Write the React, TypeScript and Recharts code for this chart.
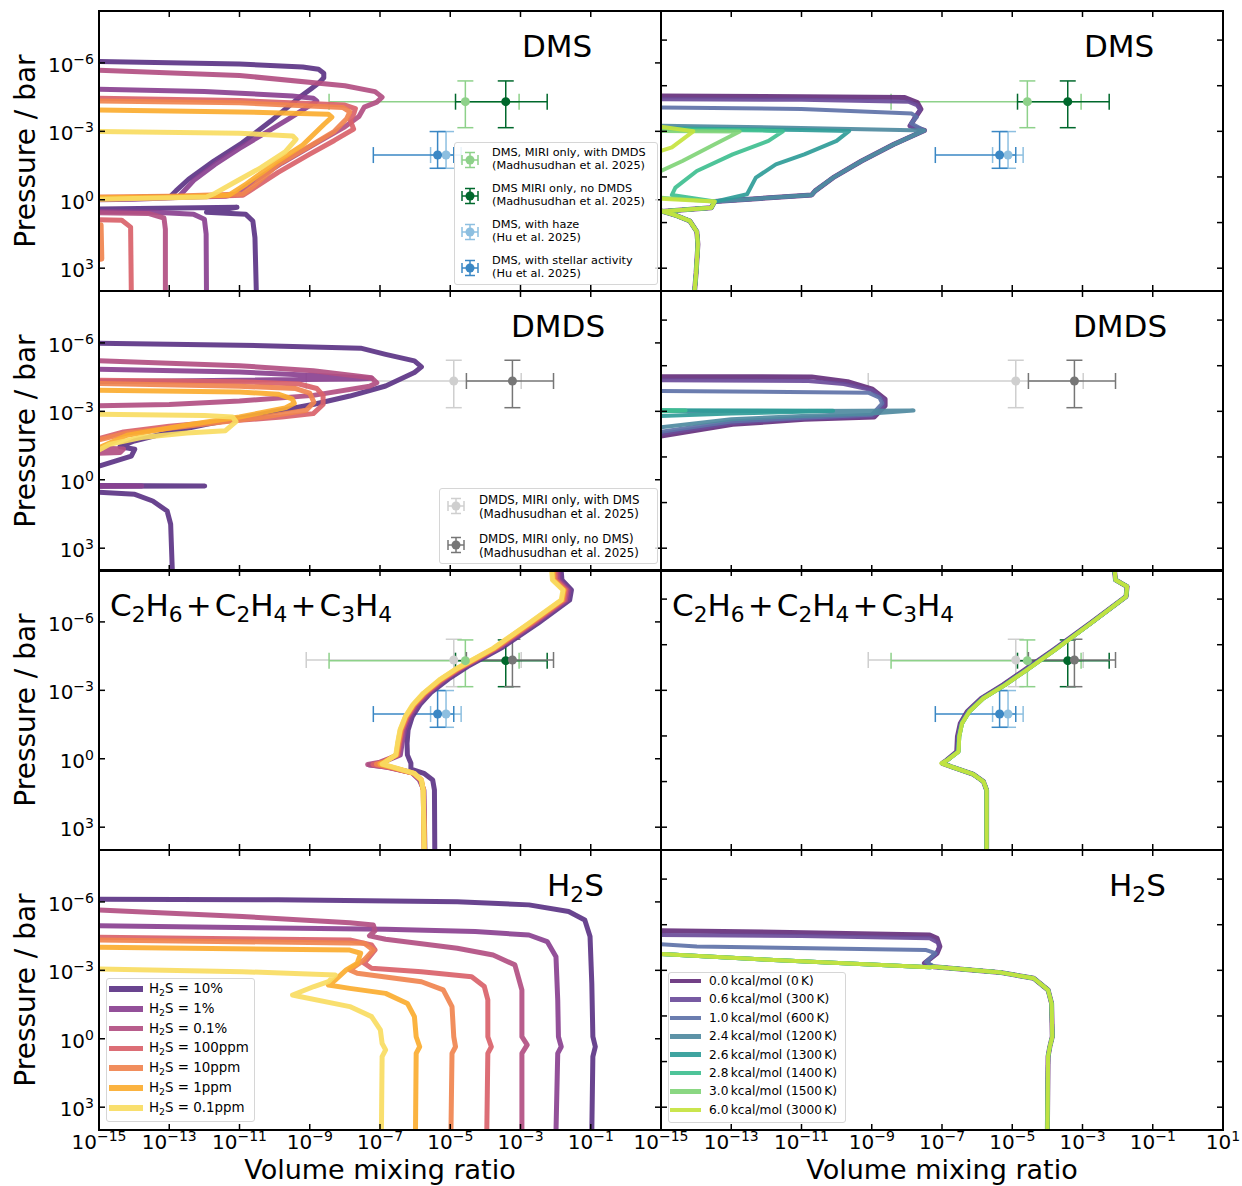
import React from 'react';
import { ScatterChart, Scatter, XAxis, YAxis, ErrorBar } from 'recharts';

type P = [number, number]; // [log10 volume mixing ratio, log10 pressure / bar]

const FONT = "'DejaVu Sans', sans-serif";

// ---------- axes ----------
const xTickValues = [1e-15, 1e-13, 1e-11, 1e-9, 1e-7, 1e-5, 1e-3, 1e-1, 1e1];
const yTicksLeft = [1e-6, 1e-3, 1, 1e3];
const yTicksRight = [1e-7, 1e-5, 1e-3, 1e-1, 1e1, 1e3];
const X_DOMAIN: [number, number] = [1e-15, 1e1];
const P_DOMAIN: [number, number] = [5.3e-9, 1e4];

// ---------- series labels / colours ----------
const h2sLabels = ['10%', '1%', '0.1%', '100ppm', '10ppm', '1ppm', '0.1ppm'];
const h2sColors = ['#5c3486', '#8a4190', '#b24f82', '#d9626a', '#f0844f', '#fbac30', '#f8dc62'];
const kcalLabels = [
  '0.0\u2009kcal/mol (0\u2009K)', '0.6\u2009kcal/mol (300\u2009K)', '1.0\u2009kcal/mol (600\u2009K)',
  '2.4\u2009kcal/mol (1200\u2009K)', '2.6\u2009kcal/mol (1300\u2009K)', '2.8\u2009kcal/mol (1400\u2009K)',
  '3.0\u2009kcal/mol (1500\u2009K)', '6.0\u2009kcal/mol (3000\u2009K)',
];
const kcalColors = ['#66307c', '#6b4c9a', '#5e72a8', '#4f8aa0', '#2f9c98', '#3fbf90', '#80d477', '#c5e33e'];

// ---------- DMS, H2S variation ----------
const dmsL_10: P[] = [[-16,-6.09],[-15,-6.06],[-11,-5.95],[-9.2,-5.82],[-8.75,-5.72],[-8.6,-5.55],[-8.6,-5.35],[-8.72,-5.15],[-8.95,-4.88],[-9.3,-4.48],[-10.1,-3.46],[-10.92,-2.5],[-11.73,-1.7],[-12.45,-0.9],[-12.81,-0.39],[-12.96,-0.15],[-14,-0.1],[-16,-0.05],[-16,0.42],[-11.07,0.33],[-11.94,0.55],[-10.82,0.64],[-10.62,0.93],[-10.56,1.66],[-10.52,4.1]];
const dmsL_1: P[] = [[-16,-4.87],[-15,-4.84],[-12,-4.75],[-9.5,-4.55],[-8.9,-4.45],[-8.8,-4.33],[-8.95,-4.18],[-9.6,-3.55],[-10.3,-2.9],[-11.0,-2.25],[-11.7,-1.55],[-12.3,-0.85],[-12.6,-0.35],[-12.75,-0.1],[-14,-0.02],[-16,0.02],[-16,0.5],[-13.4,0.55],[-12.3,0.64],[-12.0,0.85],[-11.95,1.5],[-11.94,4.1]];
const dmsL_01: P[] = [[-16,-5.71],[-15,-5.68],[-11,-5.45],[-8,-5.0],[-7.14,-4.74],[-6.94,-4.5],[-7.09,-4.28],[-7.45,-4.06],[-7.6,-3.65],[-8.0,-3.2],[-8.8,-2.5],[-9.8,-1.6],[-10.7,-0.7],[-11.1,-0.25],[-11.4,-0.15],[-14,-0.05],[-16,0.0],[-16,0.55],[-13.6,0.6],[-13.15,0.8],[-13.11,1.3],[-13.11,4.1]];
const dmsL_100ppm: P[] = [[-16,-4.48],[-15,-4.45],[-11,-4.35],[-8.0,-4.15],[-7.7,-4.0],[-7.75,-3.75],[-7.85,-3.5],[-7.75,-3.1],[-8.3,-2.6],[-9.0,-2.0],[-9.9,-1.2],[-10.7,-0.4],[-10.9,-0.2],[-13,-0.1],[-16,-0.05],[-16,0.85],[-14.35,0.9],[-14.1,1.2],[-14.08,4.1]];
const dmsL_10ppm: P[] = [[-16,-4.36],[-15,-4.33],[-11,-4.25],[-8.06,-4.05],[-7.86,-3.85],[-7.95,-3.55],[-8.3,-3.0],[-9.0,-2.35],[-9.9,-1.55],[-10.6,-0.6],[-10.9,-0.25],[-13,-0.15],[-16,-0.1],[-16,1.0],[-14.94,1.1],[-14.92,2.6],[-16,2.8]];
const dmsL_1ppm: P[] = [[-16,-3.97],[-15,-3.94],[-11,-3.85],[-8.47,-3.75],[-8.37,-3.62],[-8.6,-3.3],[-9.2,-2.4],[-10.0,-1.6],[-10.8,-0.7],[-11.3,-0.2],[-13,-0.12],[-16,-0.08]];
const dmsL_01ppm: P[] = [[-16,-3.02],[-15,-2.99],[-11,-2.92],[-9.49,-2.8],[-9.39,-2.65],[-9.7,-2.1],[-10.4,-1.4],[-11.1,-0.8],[-11.74,-0.25],[-11.94,-0.12],[-14,-0.05],[-16,0.0]];

// ---------- DMS, deposition-energy variation ----------
const dmsR_diag: P[] = [[-7.5,-3.04],[-8.37,-2.43],[-9.29,-1.7],[-10.1,-0.97],[-10.61,-0.39],[-10.71,-0.21]];
const dmsR_tail: P[] = [[-13.47,0.08],[-13.57,0.35],[-15,0.52],[-16,0.55],[-16,0.5],[-15,0.49],[-14.6,0.67],[-14.18,0.93],[-13.98,1.4],[-13.95,1.95],[-14.0,3.2],[-14.05,4.1]];
const dmsR_00: P[] = [[-16,-4.58],[-15,-4.55],[-11,-4.52],[-8.06,-4.48],[-7.7,-4.26],[-7.6,-3.97],[-7.76,-3.6],[-7.91,-3.24], ...dmsR_diag, ...dmsR_tail];
const dmsR_06: P[] = [[-16,-4.43],[-15,-4.41],[-11,-4.38],[-7.96,-4.3],[-7.72,-4.15],[-7.62,-3.95],[-7.78,-3.6],[-7.91,-3.24], ...dmsR_diag, ...dmsR_tail];
const dmsR_10: P[] = [[-16,-4.06],[-15,-4.04],[-11,-3.98],[-7.86,-3.78],[-7.72,-3.62],[-7.88,-3.35], ...dmsR_diag, ...dmsR_tail];
const dmsR_24: P[] = [[-16,-3.26],[-15,-3.24],[-11,-3.15], ...dmsR_diag, ...dmsR_tail];
const dmsR_26: P[] = [[-16,-3.15],[-15,-3.13],[-11,-3.06],[-9.64,-3.02],[-10.0,-2.58],[-10.92,-1.99],[-11.73,-1.55],[-12.3,-0.97],[-12.55,-0.24], ...dmsR_tail];
const dmsR_28: P[] = [[-16,-3.11],[-15,-3.09],[-12,-3.03],[-11.53,-3.0],[-11.94,-2.58],[-12.96,-1.99],[-13.98,-1.26],[-14.59,-0.53],[-14.69,-0.21], ...dmsR_tail];
const dmsR_30: P[] = [[-16,-3.04],[-15,-3.02],[-12.76,-2.99],[-13.47,-2.43],[-14.39,-1.7],[-15,-1.26],[-16,-1.2],[-16,-0.05],[-15,-0.09], ...dmsR_tail];
const dmsR_60: P[] = [[-16,-3.28],[-15,-3.2],[-14.08,-3.0],[-14.69,-2.3],[-15,-2.15],[-16,-2.1],[-16,-0.05],[-15,-0.05], ...dmsR_tail];

// ---------- DMDS, H2S variation ----------
const dmdsL_10: P[] = [[-16,-6.0],[-15,-5.98],[-11,-5.9],[-7.55,-5.77],[-6.84,-5.5],[-6.02,-5.21],[-5.82,-4.95],[-6.02,-4.7],[-6.84,-4.11],[-7.86,-3.67],[-8.88,-3.31],[-9.9,-3.02],[-10.92,-2.72],[-11.94,-2.43],[-12.96,-2.1],[-14.0,-1.7],[-14.4,-1.45],[-13.98,-1.34],[-14.08,-1.04],[-15,-0.6],[-16,-0.5],[-16,0.25],[-11.99,0.27],[-16,0.29],[-16,0.45],[-13.98,0.64],[-13.47,0.93],[-13.06,1.37],[-12.96,1.95],[-12.91,4.1]];
const dmdsL_1: P[] = [[-16,-4.87],[-15,-4.84],[-11,-4.72],[-8.5,-4.55],[-7.24,-4.45],[-7.6,-4.42],[-10,-4.38],[-13,-4.33],[-16,-4.3],[-16,0.25],[-13.78,0.27],[-16,0.29]];
const dmdsL_01: P[] = [[-16,-5.26],[-15,-5.22],[-11,-5.0],[-8.9,-4.78],[-7.24,-4.47],[-7.09,-4.25],[-7.3,-4.1],[-8.9,-3.7],[-11,-3.45],[-13,-3.3],[-15,-3.25],[-16,-3.24],[-16,-1.45],[-14.3,-1.35],[-14.4,-1.2],[-16,-1.1]];
const dmdsL_100ppm: P[] = [[-16,-4.38],[-15,-4.36],[-11,-4.3],[-9.3,-4.2],[-8.8,-4.0],[-8.62,-3.7],[-8.62,-3.3],[-8.9,-2.9],[-9.8,-2.75],[-11.5,-2.55],[-13,-2.35],[-14.3,-2.1],[-15,-1.8],[-16,-1.6]];
const dmdsL_10ppm: P[] = [[-16,-4.26],[-15,-4.22],[-11,-4.1],[-9.4,-4.0],[-9.0,-3.8],[-8.88,-3.4],[-9.1,-3.05],[-10.3,-2.75],[-12.5,-2.35],[-14.2,-2.05],[-15,-1.75],[-16,-1.7]];
const dmdsL_1ppm: P[] = [[-16,-3.95],[-15,-3.92],[-11,-3.85],[-9.9,-3.75],[-9.5,-3.55],[-9.44,-3.35],[-9.7,-3.15],[-11,-2.75],[-12.5,-2.4],[-14.2,-1.95],[-15,-1.4],[-16,-1.3]];
const dmdsL_01ppm: P[] = [[-16,-2.9],[-15,-2.87],[-12,-2.82],[-11.2,-2.75],[-11.1,-2.55],[-11.4,-2.15],[-12.5,-2.05],[-13.8,-1.85],[-14.7,-1.55],[-15,-1.3],[-16,-1.2]];

// ---------- DMDS, deposition-energy variation ----------
const dmdsR_00: P[] = [[-16,-4.55],[-15,-4.52],[-10.71,-4.51],[-9.69,-4.3],[-8.98,-3.97],[-8.62,-3.53],[-8.62,-3.24],[-8.93,-2.75],[-10.92,-2.65],[-12.96,-2.43],[-15,-1.92],[-16,-1.8]];
const dmdsR_06: P[] = [[-16,-4.37],[-15,-4.36],[-10.8,-4.33],[-9.8,-4.2],[-9.0,-3.93],[-8.66,-3.53],[-8.66,-3.26],[-8.95,-2.8],[-11,-2.68],[-13,-2.48],[-15,-2.0],[-16,-1.85]];
const dmdsR_10: P[] = [[-16,-3.9],[-15,-3.89],[-9.1,-3.82],[-8.78,-3.6],[-8.7,-3.35],[-9.0,-2.85],[-11,-2.72],[-13,-2.55],[-15,-2.1],[-16,-1.95]];
const dmdsR_24: P[] = [[-16,-3.03],[-15,-3.02],[-11,-3.02],[-7.81,-3.04],[-9.0,-2.9],[-11,-2.8],[-13,-2.65],[-15,-2.3],[-16,-2.2]];
const dmdsR_26: P[] = [[-16,-3.06],[-15,-3.05],[-10.1,-3.03],[-11,-2.98],[-13,-2.9],[-15,-2.8],[-16,-2.78]];
const dmdsR_28: P[] = [[-16,-3.06],[-15,-3.05],[-14.3,-3.04],[-15,-3.0],[-16,-2.98]];

// ---------- C2H6+C2H4+C3H4, H2S variation ----------
const c2L_10: P[] = [[-1.85,-8.4],[-1.82,-7.84],[-1.55,-7.4],[-1.6,-6.96],[-2.5,-5.94],[-3.5,-4.9],[-4.5,-4.05],[-5.05,-3.5],[-5.55,-2.9],[-5.85,-2.4],[-6.08,-1.85],[-6.2,-1.26],[-6.23,-0.68],[-6.22,-0.17],[-6.12,0.2],[-6.12,0.45],[-5.75,0.64],[-5.5,0.93],[-5.45,1.37],[-5.44,4.1]];
const c2L_1: P[] = [[-1.92,-8.4],[-1.9,-7.84],[-1.62,-7.4],[-1.67,-6.96],[-2.58,-5.94],[-3.6,-4.88],[-4.62,-4.02],[-5.15,-3.48],[-5.62,-2.88],[-5.93,-2.38],[-6.15,-1.85],[-6.3,-1.26],[-6.37,-0.68],[-6.42,-0.17],[-6.95,0.17],[-7.3,0.27],[-6.75,0.37],[-6.1,0.6],[-5.88,0.93],[-5.75,1.37],[-5.72,4.1]];
const c2L_01: P[] = [[-1.97,-8.4],[-1.95,-7.84],[-1.67,-7.4],[-1.72,-6.96],[-2.63,-5.94],[-3.65,-4.86],[-4.67,-4.0],[-5.2,-3.47],[-5.67,-2.88],[-5.98,-2.37],[-6.2,-1.85],[-6.35,-1.26],[-6.42,-0.68],[-6.47,-0.17],[-7.0,0.15],[-7.35,0.25],[-6.8,0.37],[-6.08,0.62],[-5.85,0.93],[-5.76,1.37],[-5.73,4.1]];
const c2L_100ppm: P[] = [[-2.02,-8.4],[-2.0,-7.84],[-1.71,-7.4],[-1.76,-6.96],[-2.67,-5.94],[-3.7,-4.85],[-4.72,-3.98],[-5.24,-3.46],[-5.71,-2.88],[-6.02,-2.37],[-6.23,-1.85],[-6.38,-1.26],[-6.45,-0.68],[-6.5,-0.17],[-6.95,0.16],[-7.2,0.25],[-6.75,0.37],[-6.06,0.63],[-5.84,0.93],[-5.76,1.37],[-5.74,4.1]];
const c2L_10ppm: P[] = [[-2.06,-8.4],[-2.04,-7.84],[-1.75,-7.4],[-1.8,-6.96],[-2.71,-5.94],[-3.74,-4.84],[-4.76,-3.97],[-5.27,-3.46],[-5.74,-2.87],[-6.04,-2.36],[-6.25,-1.85],[-6.4,-1.26],[-6.47,-0.68],[-6.52,-0.17],[-6.9,0.15],[-7.1,0.24],[-6.7,0.37],[-6.04,0.64],[-5.83,0.93],[-5.77,1.37],[-5.74,4.1]];
const c2L_1ppm: P[] = [[-2.09,-8.4],[-2.07,-7.84],[-1.77,-7.4],[-1.82,-6.96],[-2.74,-5.94],[-3.76,-4.84],[-4.78,-3.97],[-5.29,-3.46],[-5.75,-2.87],[-6.05,-2.36],[-6.27,-1.85],[-6.42,-1.26],[-6.49,-0.68],[-6.54,-0.17],[-6.86,0.14],[-7.0,0.23],[-6.66,0.37],[-6.03,0.64],[-5.82,0.93],[-5.77,1.37],[-5.74,4.1]];
const c2L_01ppm: P[] = [[-2.12,-8.4],[-2.09,-7.84],[-1.79,-7.4],[-1.84,-6.96],[-2.76,-5.94],[-3.78,-4.84],[-4.8,-3.97],[-5.31,-3.46],[-5.77,-2.87],[-6.07,-2.36],[-6.28,-1.85],[-6.43,-1.26],[-6.5,-0.68],[-6.55,-0.17],[-6.84,0.13],[-6.94,0.23],[-6.63,0.37],[-6.02,0.64],[-5.82,0.93],[-5.77,1.37],[-5.74,4.1]];

// ---------- C2H6+C2H4+C3H4, deposition-energy variation ----------
const c2R_00: P[] = [[-2.1,-8.4],[-2.06,-7.84],[-1.73,-7.55],[-1.76,-7.11],[-2.78,-5.94],[-3.83,-4.77],[-4.65,-3.89],[-5.26,-3.24],[-5.88,-2.65],[-6.28,-2.07],[-6.48,-1.55],[-6.56,-0.97],[-6.58,-0.31],[-6.86,0.05],[-6.99,0.2],[-6.73,0.35],[-6.12,0.67],[-5.82,1.0],[-5.73,1.37],[-5.73,4.1]];
const c2R_06: P[] = [[-2.1,-8.4],[-2.06,-7.84],[-1.73,-7.55],[-1.76,-7.11],[-2.78,-5.94],[-3.82,-4.77],[-4.64,-3.89],[-5.25,-3.24],[-5.87,-2.65],[-6.27,-2.07],[-6.47,-1.55],[-6.55,-0.97],[-6.57,-0.31],[-6.85,0.05],[-6.99,0.2],[-6.73,0.35],[-6.12,0.67],[-5.82,1.0],[-5.73,1.37],[-5.73,4.1]];
const c2R_10: P[] = [[-2.1,-8.4],[-2.06,-7.84],[-1.73,-7.55],[-1.76,-7.11],[-2.77,-5.94],[-3.81,-4.77],[-4.62,-3.89],[-5.23,-3.24],[-5.85,-2.65],[-6.25,-2.07],[-6.45,-1.55],[-6.53,-0.97],[-6.55,-0.31],[-6.85,0.05],[-6.99,0.2],[-6.73,0.35],[-6.12,0.67],[-5.82,1.0],[-5.73,1.37],[-5.73,4.1]];
const c2R_24: P[] = [[-2.1,-8.4],[-2.06,-7.84],[-1.73,-7.55],[-1.76,-7.11],[-2.76,-5.94],[-3.79,-4.77],[-4.6,-3.89],[-5.21,-3.24],[-5.83,-2.65],[-6.23,-2.07],[-6.44,-1.55],[-6.52,-0.97],[-6.54,-0.31],[-6.84,0.05],[-6.99,0.2],[-6.73,0.35],[-6.12,0.67],[-5.82,1.0],[-5.73,1.37],[-5.73,4.1]];
const c2R_26: P[] = [[-2.1,-8.4],[-2.06,-7.84],[-1.73,-7.55],[-1.76,-7.11],[-2.76,-5.94],[-3.78,-4.77],[-4.59,-3.89],[-5.2,-3.24],[-5.82,-2.65],[-6.22,-2.07],[-6.43,-1.55],[-6.51,-0.97],[-6.53,-0.31],[-6.84,0.05],[-6.99,0.2],[-6.73,0.35],[-6.12,0.67],[-5.82,1.0],[-5.73,1.37],[-5.73,4.1]];
const c2R_28: P[] = [[-2.1,-8.4],[-2.06,-7.84],[-1.73,-7.55],[-1.76,-7.11],[-2.76,-5.94],[-3.78,-4.77],[-4.59,-3.89],[-5.2,-3.24],[-5.82,-2.65],[-6.22,-2.07],[-6.43,-1.55],[-6.51,-0.97],[-6.53,-0.31],[-6.84,0.05],[-6.99,0.2],[-6.73,0.35],[-6.12,0.67],[-5.82,1.0],[-5.73,1.37],[-5.73,4.1]];
const c2R_30: P[] = [[-2.1,-8.4],[-2.06,-7.84],[-1.73,-7.55],[-1.76,-7.11],[-2.76,-5.94],[-3.78,-4.77],[-4.59,-3.89],[-5.2,-3.24],[-5.82,-2.65],[-6.22,-2.07],[-6.43,-1.55],[-6.51,-0.97],[-6.53,-0.31],[-6.84,0.05],[-6.99,0.2],[-6.73,0.35],[-6.12,0.67],[-5.82,1.0],[-5.73,1.37],[-5.73,4.1]];
const c2R_60: P[] = [[-2.09,-8.4],[-2.06,-7.84],[-1.73,-7.55],[-1.76,-7.11],[-2.76,-5.94],[-3.78,-4.77],[-4.59,-3.89],[-5.2,-3.24],[-5.82,-2.65],[-6.22,-2.07],[-6.43,-1.55],[-6.51,-0.97],[-6.53,-0.31],[-6.84,0.05],[-7.02,0.2],[-6.73,0.35],[-6.12,0.67],[-5.82,1.0],[-5.73,1.37],[-5.73,4.1]];

// ---------- H2S, H2S variation ----------
const h2sL_10: P[] = [[-16,-6.14],[-15,-6.12],[-9.9,-6.09],[-4.8,-6.01],[-2.76,-5.87],[-1.63,-5.58],[-1.17,-5.21],[-1.02,-4.48],[-0.97,-2.43],[-0.94,-0.09],[-0.87,0.35],[-0.94,0.78],[-0.97,4.1]];
const h2sL_1: P[] = [[-16,-4.97],[-15,-4.95],[-6.84,-4.8],[-4.29,-4.7],[-2.76,-4.55],[-2.24,-4.26],[-1.99,-3.6],[-1.94,-1.7],[-1.92,-0.09],[-1.84,0.35],[-1.94,0.64],[-1.99,4.1]];
const h2sL_01: P[] = [[-16,-5.67],[-15,-5.65],[-10.92,-5.36],[-7.86,-5.09],[-7.19,-4.99],[-7.14,-4.74],[-7.3,-4.51],[-6.84,-4.36],[-4.8,-3.97],[-3.78,-3.67],[-3.16,-3.24],[-2.96,-2.14],[-2.96,-0.09],[-2.81,0.27],[-2.96,0.64],[-2.96,4.1]];
const h2sL_100ppm: P[] = [[-16,-4.47],[-15,-4.45],[-7.86,-4.33],[-7.24,-4.11],[-7.14,-3.89],[-7.45,-3.31],[-7.24,-3.09],[-5.82,-2.94],[-4.39,-2.72],[-4.03,-2.29],[-3.93,-1.7],[-3.93,-0.09],[-3.83,0.35],[-3.93,0.64],[-3.96,4.1]];
const h2sL_10ppm: P[] = [[-16,-4.35],[-15,-4.33],[-7.45,-4.19],[-7.19,-3.89],[-7.45,-3.46],[-7.86,-3.02],[-7.65,-2.87],[-5.82,-2.5],[-5.2,-2.14],[-4.95,-1.41],[-4.9,-0.09],[-4.85,0.35],[-4.95,0.64],[-4.98,4.1]];
const h2sL_1ppm: P[] = [[-16,-4.03],[-15,-4.01],[-7.86,-3.89],[-7.55,-3.75],[-7.65,-3.31],[-7.96,-3.02],[-8.27,-2.58],[-8.47,-2.36],[-7.86,-2.21],[-6.84,-1.99],[-6.22,-1.55],[-6.02,-0.97],[-5.97,-0.09],[-5.87,0.35],[-5.97,0.64],[-5.99,4.1]];
const h2sL_01ppm: P[] = [[-16,-3.08],[-15,-3.06],[-10.92,-2.94],[-8.27,-2.8],[-8.47,-2.5],[-8.88,-2.29],[-9.49,-1.92],[-9.29,-1.85],[-7.86,-1.41],[-7.24,-0.97],[-6.99,-0.39],[-6.94,0.2],[-6.84,0.49],[-6.94,0.78],[-6.96,4.1]];

// ---------- H2S, deposition-energy variation ----------
const h2sR_tail: P[] = [[-7.24,-3.16],[-5.31,-2.9],[-4.39,-2.65],[-3.98,-2.14],[-3.88,-1.55],[-3.86,-0.09],[-3.93,0.35],[-3.98,0.78],[-4.0,4.1]];
const h2sR_00: P[] = [[-16,-4.76],[-15,-4.74],[-10.92,-4.65],[-7.35,-4.55],[-7.14,-4.41],[-7.06,-4.04],[-7.14,-3.75],[-7.5,-3.31], ...h2sR_tail];
const h2sR_06: P[] = [[-16,-4.57],[-15,-4.55],[-11,-4.5],[-7.35,-4.41],[-7.1,-4.2],[-7.09,-4.0],[-7.16,-3.73],[-7.48,-3.3], ...h2sR_tail];
const h2sR_10: P[] = [[-16,-4.16],[-15,-4.14],[-13.98,-4.04],[-7.45,-3.89],[-7.19,-3.75],[-7.45,-3.38], ...h2sR_tail];
const h2sR_24: P[] = [[-16,-3.74],[-15,-3.72],[-11.94,-3.46],[-7.35,-3.13], ...h2sR_tail];
const h2sR_26: P[] = [[-16,-3.74],[-15,-3.72],[-11.94,-3.46],[-7.35,-3.13], ...h2sR_tail];
const h2sR_28: P[] = [[-16,-3.74],[-15,-3.72],[-11.94,-3.46],[-7.35,-3.13], ...h2sR_tail];
const h2sR_30: P[] = [[-16,-3.74],[-15,-3.72],[-11.94,-3.46],[-7.35,-3.13], ...h2sR_tail];
const h2sR_60: P[] = [[-16,-3.74],[-15,-3.72],[-11.94,-3.46],[-7.35,-3.13], ...h2sR_tail];

// ---------- retrieved abundances: [log x, log x low, log x high, log p, log p low, log p high] ----------
const obsDmsWithDmds = [-4.57, -8.45, -3.04, -4.3, -5.21, -3.16];
const obsDmsNoDmds = [-3.42, -4.85, -2.24, -4.3, -5.21, -3.16];
const obsDmsHaze = [-5.12, -5.56, -4.69, -1.96, -2.99, -1.38];
const obsDmsStellar = [-5.36, -7.19, -4.9, -1.96, -2.99, -1.38];
const obsDmdsWithDms = [-4.9, -9.1, -2.98, -4.33, -5.24, -3.16];
const obsDmdsNoDms = [-3.23, -4.54, -2.06, -4.33, -5.24, -3.16];

const C_LGREEN = '#8ed18a';
const C_DGREEN = '#00682c';
const C_LBLUE = '#8dbfe0';
const C_BLUE = '#3a87c4';
const C_LGREY = '#cfcfcf';
const C_DGREY = '#767676';

const legendDms = [
  { color: C_LGREEN, l1: 'DMS, MIRI only, with DMDS', l2: '(Madhusudhan et al. 2025)' },
  { color: C_DGREEN, l1: 'DMS MIRI only, no DMDS', l2: '(Madhusudhan et al. 2025)' },
  { color: C_LBLUE, l1: 'DMS, with haze', l2: '(Hu et al. 2025)' },
  { color: C_BLUE, l1: 'DMS, with stellar activity', l2: '(Hu et al. 2025)' },
];
const legendDmds = [
  { color: C_LGREY, l1: 'DMDS, MIRI only, with DMS', l2: '(Madhusudhan et al. 2025)' },
  { color: C_DGREY, l1: 'DMDS, MIRI only, no DMS)', l2: '(Madhusudhan et al. 2025)' },
];

// ---------- helpers ----------
const PW = 562;
const PH = 280;
const ROW_TOPS = [11, 291, 570, 850];

const toPts = (arr: P[]) => arr.map(([lx, lp]) => ({ x: Math.pow(10, lx), y: Math.pow(10, lp) }));
const obsData = (o: number[]) => {
  const x = Math.pow(10, o[0]);
  const y = Math.pow(10, o[3]);
  return [{ x, y, ex: [x - Math.pow(10, o[1]), Math.pow(10, o[2]) - x], ey: [y - Math.pow(10, o[4]), Math.pow(10, o[5]) - y] }];
};
const supStr = (e: number) => (e < 0 ? '\u2212' + String(-e) : String(e));
const noShape = () => <g />;

function makeXTick(labels: boolean, lastLabel: boolean) {
  const XTick = (props: any) => {
    const { x, payload } = props;
    const e = Math.round(Math.log10(payload.value));
    const edge = e <= -15 || e >= 1;
    const showLabel = labels && (lastLabel || e < 1);
    return (
      <g>
        {!edge && <line x1={x} x2={x} y1={PH} y2={PH - 6} stroke="#000" strokeWidth={1.5} />}
        {!edge && <line x1={x} x2={x} y1={0} y2={6} stroke="#000" strokeWidth={1.5} />}
        {showLabel && (
          <text x={x} y={PH + 19} textAnchor="middle" fontFamily={FONT} fontSize={20} fill="#000">
            10<tspan dy={-8} fontSize={14}>{supStr(e)}</tspan>
          </text>
        )}
      </g>
    );
  };
  return XTick;
}

function makeYTick(plotLeft: number, labels: boolean) {
  const YTick = (props: any) => {
    const { y, payload } = props;
    const e = Math.round(Math.log10(payload.value));
    return (
      <g>
        <line x1={plotLeft} x2={plotLeft + 6} y1={y} y2={y} stroke="#000" strokeWidth={1.5} />
        <line x1={plotLeft + PW} x2={plotLeft + PW - 6} y1={y} y2={y} stroke="#000" strokeWidth={1.5} />
        {labels && (
          <text x={plotLeft - 5} y={y + 9} textAnchor="end" fontFamily={FONT} fontSize={20} fill="#000">
            10<tspan dy={-8} fontSize={14}>{supStr(e)}</tspan>
          </text>
        )}
      </g>
    );
  };
  return YTick;
}

type Obs = { data: number[]; color: string };
type PanelDef = { row: number; col: number; series: P[][]; colors: string[]; widths: number[]; obs: Obs[] };

const wL = [5, 5, 5, 5, 5, 5, 5];
const wR = [5, 4, 4, 4, 4, 4, 4, 4];

const obsRow0: Obs[] = [
  { data: obsDmsWithDmds, color: C_LGREEN }, { data: obsDmsNoDmds, color: C_DGREEN },
  { data: obsDmsHaze, color: C_LBLUE }, { data: obsDmsStellar, color: C_BLUE },
];
const obsRow1: Obs[] = [{ data: obsDmdsWithDms, color: C_LGREY }, { data: obsDmdsNoDms, color: C_DGREY }];
const obsRow2: Obs[] = [
  { data: obsDmdsWithDms, color: C_LGREY }, { data: obsDmsWithDmds, color: C_LGREEN },
  { data: obsDmsNoDmds, color: C_DGREEN }, { data: obsDmdsNoDms, color: C_DGREY },
  { data: obsDmsHaze, color: C_LBLUE }, { data: obsDmsStellar, color: C_BLUE },
];

const panels: PanelDef[] = [
  { row: 0, col: 0, series: [dmsL_10, dmsL_1, dmsL_01, dmsL_100ppm, dmsL_10ppm, dmsL_1ppm, dmsL_01ppm], colors: h2sColors, widths: wL, obs: obsRow0 },
  { row: 0, col: 1, series: [dmsR_00, dmsR_06, dmsR_10, dmsR_24, dmsR_26, dmsR_28, dmsR_30, dmsR_60], colors: kcalColors, widths: wR, obs: obsRow0 },
  { row: 1, col: 0, series: [dmdsL_10, dmdsL_1, dmdsL_01, dmdsL_100ppm, dmdsL_10ppm, dmdsL_1ppm, dmdsL_01ppm], colors: h2sColors, widths: wL, obs: obsRow1 },
  { row: 1, col: 1, series: [dmdsR_00, dmdsR_06, dmdsR_10, dmdsR_24, dmdsR_26, dmdsR_28], colors: kcalColors, widths: wR, obs: obsRow1 },
  { row: 2, col: 0, series: [c2L_10, c2L_1, c2L_01, c2L_100ppm, c2L_10ppm, c2L_1ppm, c2L_01ppm], colors: h2sColors, widths: wL, obs: obsRow2 },
  { row: 2, col: 1, series: [c2R_00, c2R_06, c2R_10, c2R_24, c2R_26, c2R_28, c2R_30, c2R_60], colors: kcalColors, widths: wR, obs: obsRow2 },
  { row: 3, col: 0, series: [h2sL_10, h2sL_1, h2sL_01, h2sL_100ppm, h2sL_10ppm, h2sL_1ppm, h2sL_01ppm], colors: h2sColors, widths: wL, obs: [] },
  { row: 3, col: 1, series: [h2sR_00, h2sR_06, h2sR_10, h2sR_24, h2sR_26, h2sR_28, h2sR_30, h2sR_60], colors: kcalColors, widths: wR, obs: [] },
];

function Panel({ def }: { def: PanelDef }) {
  const { row, col, series, colors, widths, obs } = def;
  const isLeft = col === 0;
  const yw = isLeft ? 99 : 40;
  const mr = isLeft ? 0 : 19;
  const chartLeft = isLeft ? 0 : 621;
  const bottom = row === 3;
  return (
    <div style={{ position: 'absolute', left: chartLeft, top: ROW_TOPS[row] }}>
      <ScatterChart width={yw + PW + mr} height={PH + 56} margin={{ top: 0, right: mr, bottom: 0, left: 0 }}>
        <XAxis
          type="number" dataKey="x" scale="log" domain={X_DOMAIN} allowDataOverflow ticks={xTickValues}
          interval={0} axisLine={false} tickLine={false} tickSize={0} tickMargin={0} height={56}
          tick={makeXTick(bottom, !isLeft)}
        />
        <YAxis
          type="number" dataKey="y" scale="log" domain={P_DOMAIN} allowDataOverflow reversed
          ticks={isLeft ? yTicksLeft : yTicksRight} interval={0} axisLine={false} tickLine={false}
          tickSize={0} tickMargin={0} width={yw} tick={makeYTick(yw, isLeft)}
        />
        {series.map((s, i) => (
          <Scatter
            key={'s' + i} data={toPts(s)} fill={colors[i]} lineType="joint" shape={noShape}
            line={{ stroke: colors[i], strokeWidth: widths[i], strokeOpacity: 0.92, strokeLinejoin: 'round', strokeLinecap: 'round' }}
            isAnimationActive={false} legendType="none"
          />
        ))}
        {obs.map((o, i) => (
          <Scatter
            key={'o' + i} data={obsData(o.data)} fill={o.color} isAnimationActive={false} legendType="none"
            shape={(p: any) => <circle cx={p.cx} cy={p.cy} r={4.5} fill={o.color} />}
          >
            <ErrorBar dataKey="ex" direction="x" width={8} stroke={o.color} strokeWidth={1.5} />
            <ErrorBar dataKey="ey" direction="y" width={8} stroke={o.color} strokeWidth={1.5} />
          </Scatter>
        ))}
      </ScatterChart>
    </div>
  );
}

// ---------- titles ----------
type Part = [string, boolean];
const titleDMS: Part[] = [['DMS', false]];
const titleDMDS: Part[] = [['DMDS', false]];
const titleH2S: Part[] = [['H', false], ['2', true], ['S', false]];
const titleC2: Part[] = [['C', false], ['2', true], ['H', false], ['6', true], ['\u200a+\u200aC', false], ['2', true], ['H', false], ['4', true], ['\u200a+\u200aC', false], ['3', true], ['H', false], ['4', true]];

function MathText({ x, y, parts, size }: { x: number; y: number; parts: Part[]; size: number }) {
  let prev = false;
  return (
    <text x={x} y={y} fontSize={size} fontFamily={FONT} fill="#000">
      {parts.map(([t, s], i) => {
        const dy = s && !prev ? size * 0.2 : !s && prev ? -size * 0.2 : 0;
        prev = s;
        return (
          <tspan key={i} dy={dy} fontSize={s ? size * 0.7 : size}>{t}</tspan>
        );
      })}
    </text>
  );
}

const ErrIcon = ({ color, left, top }: { color: string; left: number; top: number }) => (
  <svg width={20} height={18} style={{ position: 'absolute', left, top }}>
    <line x1={2} x2={18} y1={9} y2={9} stroke={color} strokeWidth={1.5} />
    <line x1={2} x2={2} y1={4} y2={14} stroke={color} strokeWidth={1.5} />
    <line x1={18} x2={18} y1={4} y2={14} stroke={color} strokeWidth={1.5} />
    <line x1={10} x2={10} y1={1.5} y2={16.5} stroke={color} strokeWidth={1.5} />
    <line x1={5} x2={15} y1={1.5} y2={1.5} stroke={color} strokeWidth={1.5} />
    <line x1={5} x2={15} y1={16.5} y2={16.5} stroke={color} strokeWidth={1.5} />
    <circle cx={10} cy={9} r={4.5} fill={color} />
  </svg>
);

const legendBox: React.CSSProperties = {
  position: 'absolute', border: '1px solid #d6d6d6', borderRadius: 3, background: 'rgba(255,255,255,0.82)',
  boxSizing: 'border-box', fontFamily: FONT, color: '#000',
};

export default function App() {
  return (
    <div style={{ position: 'absolute', left: 0, top: 0, width: 1242, height: 1186, background: '#fff', overflow: 'hidden' }}>
      {panels.map((d, i) => <Panel key={i} def={d} />)}

      <svg width={1242} height={1186} style={{ position: 'absolute', left: 0, top: 0, pointerEvents: 'none' }}>
        {ROW_TOPS.map((t, r) => (
          <g key={r}>
            <rect x={99} y={t} width={PW} height={PH} fill="none" stroke="#000" strokeWidth={2} />
            <rect x={661} y={t} width={PW} height={PH} fill="none" stroke="#000" strokeWidth={2} />
            <text transform={`translate(35, ${t + 140}) rotate(-90)`} textAnchor="middle" fontFamily={FONT} fontSize={28} fill="#000">
              Pressure / bar
            </text>
          </g>
        ))}
        <MathText x={522} y={57} parts={titleDMS} size={31} />
        <MathText x={1084} y={57} parts={titleDMS} size={31} />
        <MathText x={511} y={337} parts={titleDMDS} size={31} />
        <MathText x={1073} y={337} parts={titleDMDS} size={31} />
        <MathText x={110} y={616} parts={titleC2} size={31} />
        <MathText x={672} y={616} parts={titleC2} size={31} />
        <MathText x={547} y={896} parts={titleH2S} size={31} />
        <MathText x={1109} y={896} parts={titleH2S} size={31} />
        <text x={380} y={1179} textAnchor="middle" fontFamily={FONT} fontSize={27} fill="#000">Volume mixing ratio</text>
        <text x={942} y={1179} textAnchor="middle" fontFamily={FONT} fontSize={27} fill="#000">Volume mixing ratio</text>
      </svg>

      {/* legend: DMS retrievals */}
      <div style={{ ...legendBox, left: 454, top: 142, width: 204, height: 143, fontSize: 11.3 }}>
        {legendDms.map((o, k) => (
          <React.Fragment key={k}>
            <ErrIcon color={o.color} left={5} top={8 + 36 * k} />
            <div style={{ position: 'absolute', left: 37, top: 2.5 + 36 * k, lineHeight: '13px', whiteSpace: 'nowrap' }}>
              {o.l1}<br />{o.l2}
            </div>
          </React.Fragment>
        ))}
      </div>

      {/* legend: DMDS retrievals */}
      <div style={{ ...legendBox, left: 439, top: 488, width: 219, height: 76, fontSize: 11.8 }}>
        {legendDmds.map((o, k) => (
          <React.Fragment key={k}>
            <ErrIcon color={o.color} left={6} top={8 + 39 * k} />
            <div style={{ position: 'absolute', left: 39, top: 3.5 + 39 * k, lineHeight: '14px', whiteSpace: 'nowrap' }}>
              {o.l1}<br />{o.l2}
            </div>
          </React.Fragment>
        ))}
      </div>

      {/* legend: H2S abundance */}
      <div style={{ ...legendBox, left: 106, top: 978, width: 149, height: 144, fontSize: 13.4 }}>
        {h2sLabels.map((lab, k) => (
          <React.Fragment key={k}>
            <div style={{ position: 'absolute', left: 2, top: 7.2 + 19.8 * k, width: 34, height: 5.5, background: h2sColors[k], opacity: 0.92 }} />
            <div style={{ position: 'absolute', left: 42, top: 2 + 19.8 * k, lineHeight: '16px', whiteSpace: 'nowrap' }}>
              H<span style={{ fontSize: '0.7em', position: 'relative', top: '0.3em' }}>2</span>S = {lab}
            </div>
          </React.Fragment>
        ))}
      </div>

      {/* legend: deposition energy */}
      <div style={{ ...legendBox, left: 668, top: 972, width: 178, height: 151, fontSize: 12.2 }}>
        {kcalLabels.map((lab, k) => (
          <React.Fragment key={k}>
            <div style={{ position: 'absolute', left: 1, top: 5.8 + 18.4 * k, width: 31, height: 4.5, background: kcalColors[k], opacity: 0.92 }} />
            <div style={{ position: 'absolute', left: 40, top: 1 + 18.4 * k, lineHeight: '15px', whiteSpace: 'nowrap' }}>{lab}</div>
          </React.Fragment>
        ))}
      </div>
    </div>
  );
}
